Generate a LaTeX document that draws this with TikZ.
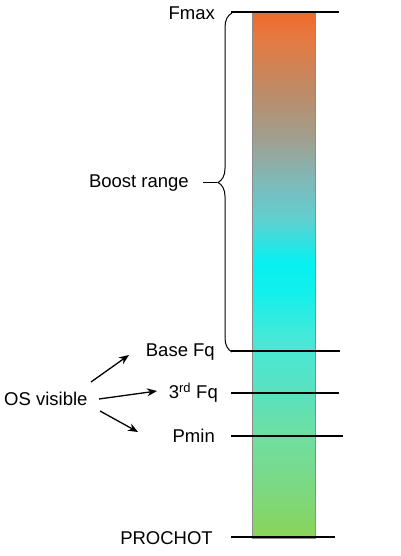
\documentclass[tikz,border=0pt]{standalone}
\usepackage{fontspec}
\setmainfont{Liberation Sans}
\usetikzlibrary{positioning}
\usetikzlibrary{arrows.meta}
\usetikzlibrary{decorations.pathreplacing}
\definecolor{barTop}{HTML}{F06A2A}
\definecolor{barOrange}{HTML}{E47A42}
\definecolor{barBrown}{HTML}{B88E6E}
\definecolor{barGray}{HTML}{A0A090}
\definecolor{barSlate}{HTML}{80B8B8}
\definecolor{barTeal}{HTML}{60D0D0}
\definecolor{barCyan}{HTML}{08F0F0}
\definecolor{barAqua}{HTML}{10F0EC}
\definecolor{barMint}{HTML}{48E8D8}
\definecolor{barSea}{HTML}{58E2C0}
\definecolor{barJade}{HTML}{70DE9E}
\definecolor{barGreen}{HTML}{7CD880}
\definecolor{barBottom}{HTML}{8AD458}
\pgfdeclareverticalshading{freqshade}{100bp}{color(0bp)=(barBottom); color(25bp)=(barBottom); color(29.56bp)=(barGreen); color(34.31bp)=(barJade); color(39.06bp)=(barSea); color(43.82bp)=(barMint); color(48.57bp)=(barAqua); color(51.24bp)=(barCyan); color(55.23bp)=(barTeal); color(59.03bp)=(barSlate); color(62.83bp)=(barGray); color(66.63bp)=(barBrown); color(72.34bp)=(barOrange); color(75bp)=(barTop); color(100bp)=(barTop)}

\begin{document}
\begin{tikzpicture}[x=1pt, y=1pt, font=\fontsize{18.5}{21}\selectfont,
    level/.style={line width=2.6pt},
    freqlabel/.style={anchor=east, inner sep=0pt},
    pointer/.style={line width=1.3pt, -{Stealth[length=10pt, width=8pt]}}]
    \useasboundingbox (0,0) rectangle (400,556);

    % the frequency bar
    \node (bar) [rectangle, shading=freqshade, draw=black!45, line width=0.4pt, minimum width=63pt, minimum height=526pt, inner sep=0pt, anchor=south west] at (252,18) {};

    % levels
    \coordinate (fmaxL) at (231,544);
    \coordinate (fmaxR) at (339,544);
    \coordinate (baseL) at (231,205);
    \coordinate (baseR) at (340,205);
    \coordinate (thirdL) at (231,163);
    \coordinate (thirdR) at (339,163);
    \coordinate (pminL) at (231,120);
    \coordinate (pminR) at (343,120);
    \coordinate (prochotL) at (231,19);
    \coordinate (prochotR) at (335,19);

    \draw [level] (fmaxL) -- (fmaxR);
    \draw [level] (baseL) -- (baseR);
    \draw [level] (thirdL) -- (thirdR);
    \draw [level] (pminL) -- (pminR);
    \draw [level] (prochotL) -- (prochotR);

    % labels
    \node (fmax) [freqlabel] at (215,542.5) {Fmax};
    \node (boost) [freqlabel] at (189,373) {Boost range};
    \node (base) [freqlabel] at (215,203.5) {Base Fq};
    \node (third) [freqlabel] at (218,163) {3\textsuperscript{rd} Fq};
    \node (pmin) [freqlabel] at (215,120) {Pmin};
    \node (prochot) [freqlabel] at (213,17.5) {PROCHOT};
    \node (os) [anchor=west, inner sep=0pt] at (4,157) {OS visible};

    % boost range brace
    \coordinate (braceLow) at (232,204);
    \coordinate (braceHigh) at (232,543);
    \coordinate (braceTip) at (217,373);
    \draw [line width=1pt, decorate, decoration={brace, amplitude=14pt, aspect=0.5}] (braceLow) -- (braceHigh);
    \draw [line width=1pt] ([xshift=14pt]boost.east) -- (braceTip);

    % os visible pointers
    \coordinate (osA) at (91,174);
    \coordinate (osB) at (99,157);
    \coordinate (osC) at (100,145);
    \coordinate (toBase) at (129,201);
    \coordinate (toThird) at (157,165);
    \coordinate (toPmin) at (138,124);
    \draw [pointer] (osA) -- (toBase);
    \draw [pointer] (osB) -- (toThird);
    \draw [pointer] (osC) -- (toPmin);
\end{tikzpicture}
\end{document}
